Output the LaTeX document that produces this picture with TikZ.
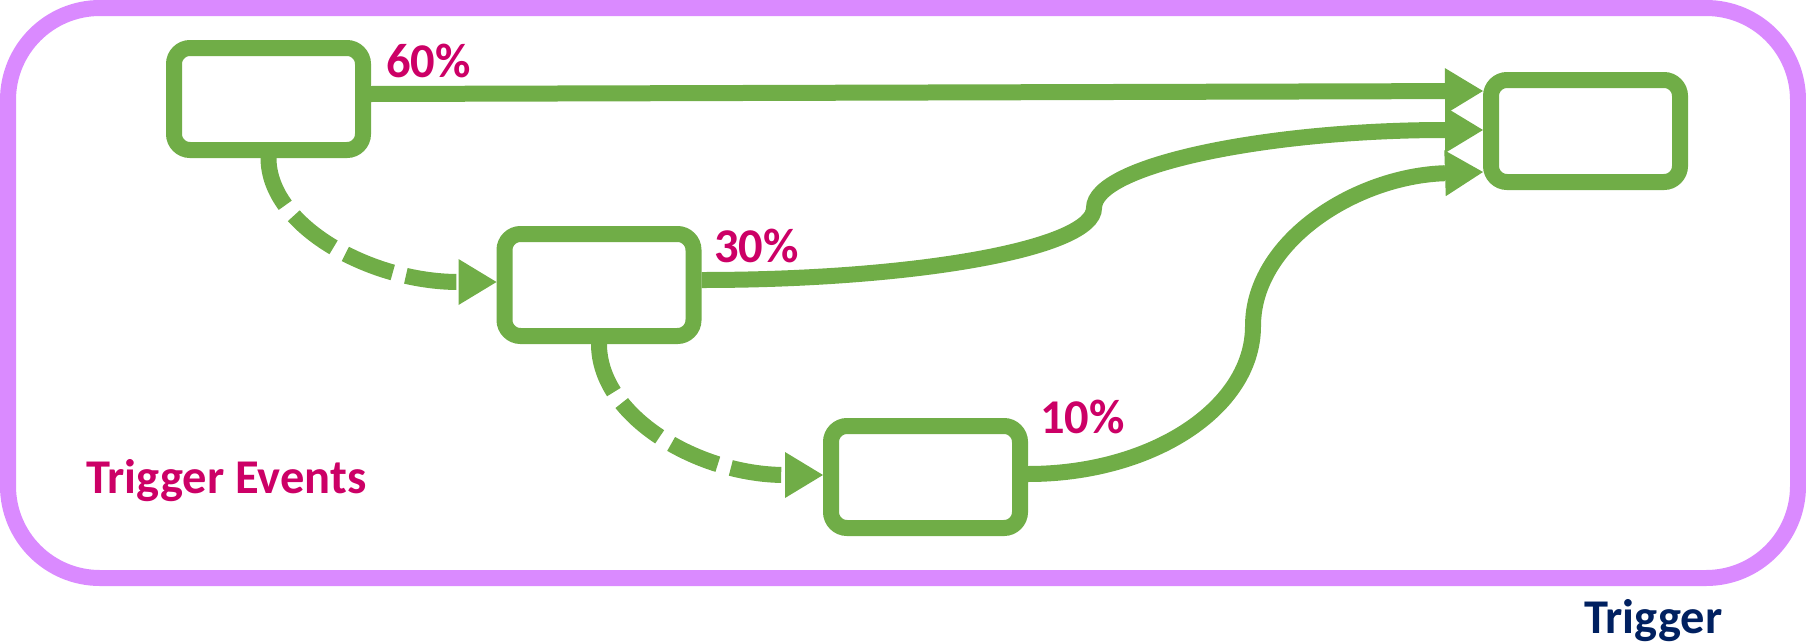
\documentclass[tikz,border=0pt]{standalone}
\usepackage{fontspec}
\setmainfont{Carlito}
\usetikzlibrary{arrows.meta}
\definecolor{boxgreen}{HTML}{70AD47}
\definecolor{framepurple}{HTML}{DA8AFF}
\definecolor{pctpink}{HTML}{CC0066}
\definecolor{navy}{HTML}{002060}

\begin{document}
\begin{tikzpicture}[x=1pt, y=-1pt,
  event/.style={draw=boxgreen, line width=16pt, rounded corners=16pt, fill=white, minimum width=189pt, minimum height=102pt, inner sep=0pt},
  flow/.style={draw=boxgreen, line width=16pt, -{Triangle[length=38pt,width=46pt,line width=0pt]}},
  pct/.style={anchor=base west, inner sep=0pt, text=pctpink, font=\bfseries\fontsize{48.5}{56}\selectfont}]
\useasboundingbox (0,0) rectangle (1806,643);
\draw[framepurple, line width=16pt, rounded corners=92pt] (8,8) rectangle (1798,578);

\node[event] (a) at (268.5,99) {};
\node[event] (b) at (599,285) {};
\node[event] (c) at (925.5,477) {};
\node[event] (d) at (1585.5,131) {};

\node[pct] (p60) at (386,77) {60\%};
\node[pct] (p30) at (714,262) {30\%};
\node[pct] (p10) at (1040,433) {10\%};
\node[pct] (events) at (86,493) {Trigger Events};
\node[pct, text=navy] (trig) at (1584,633) {Trigger};

\coordinate (m2) at (1094,208);
\coordinate (m3) at (1253,326);

\draw[flow] ([yshift=5pt]a.east) -- ([yshift=40pt]d.west);
\draw[flow] ([yshift=5pt]b.east) .. controls +(216,0) and +(0,40) .. (m2) .. controls +(0,-43) and +(-215,0) .. ([yshift=1pt]d.west);
\draw[flow] ([yshift=3pt]c.east) .. controls +(124,0) and +(0,82) .. (m3) .. controls +(0,-85) and +(-127,4) .. ([yshift=-41pt]d.west);
\draw[flow, dash pattern=on 51pt off 13.5pt] (a.south) .. controls +(0,68) and +(-126,0) .. ([yshift=3pt]b.west);
\draw[flow, dash pattern=on 51pt off 13.5pt] (b.south) .. controls +(0,73) and +(-124,0) .. ([yshift=2pt]c.west);
\end{tikzpicture}
\end{document}
